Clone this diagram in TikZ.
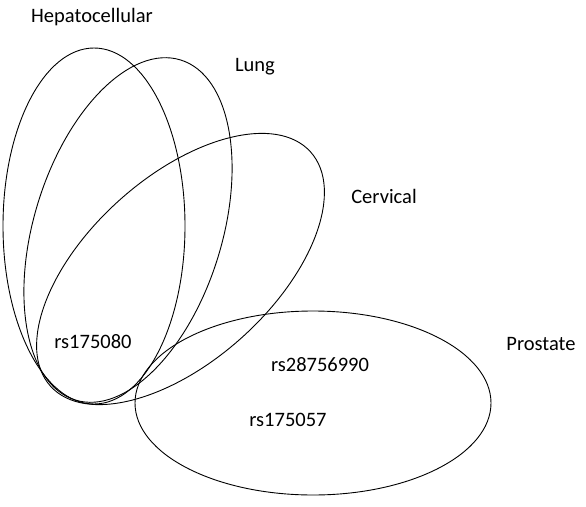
\documentclass[tikz,border=0pt]{standalone}
\usepackage{fontspec}
\setmainfont{Carlito}
\tikzset{
  venn/.style={draw=black, line width=0.9pt},
  lbl/.style={font=\fontsize{20.5}{24}\selectfont, text=black, inner sep=0pt}
}
\begin{document}
\begin{tikzpicture}[x=1pt,y=-1pt]
\useasboundingbox (0,0) rectangle (586,506);
% sets
\draw[venn] (94,226) ellipse [x radius=91, y radius=178];
\draw[venn, rotate around={72.8:(128,230)}] (128,230) ellipse [x radius=178, y radius=94];
\draw[venn, rotate around={42:(180.5,269)}] (180.5,269) ellipse [x radius=175, y radius=92];
\draw[venn] (313,403) ellipse [x radius=178, y radius=92];
% set labels
\node[lbl] (hep) at (92,17) {Hepatocellular};
\node[lbl] (lung) at (255,67) {Lung};
\node[lbl] (cerv) at (384,196) {Cervical};
\node[lbl] (pros) at (541,344) {Prostate};
% members
\node[lbl] (s1) at (93,342) {rs175080};
\node[lbl] (s2) at (320,365) {rs28756990};
\node[lbl] (s3) at (288,420) {rs175057};
\end{tikzpicture}
\end{document}
